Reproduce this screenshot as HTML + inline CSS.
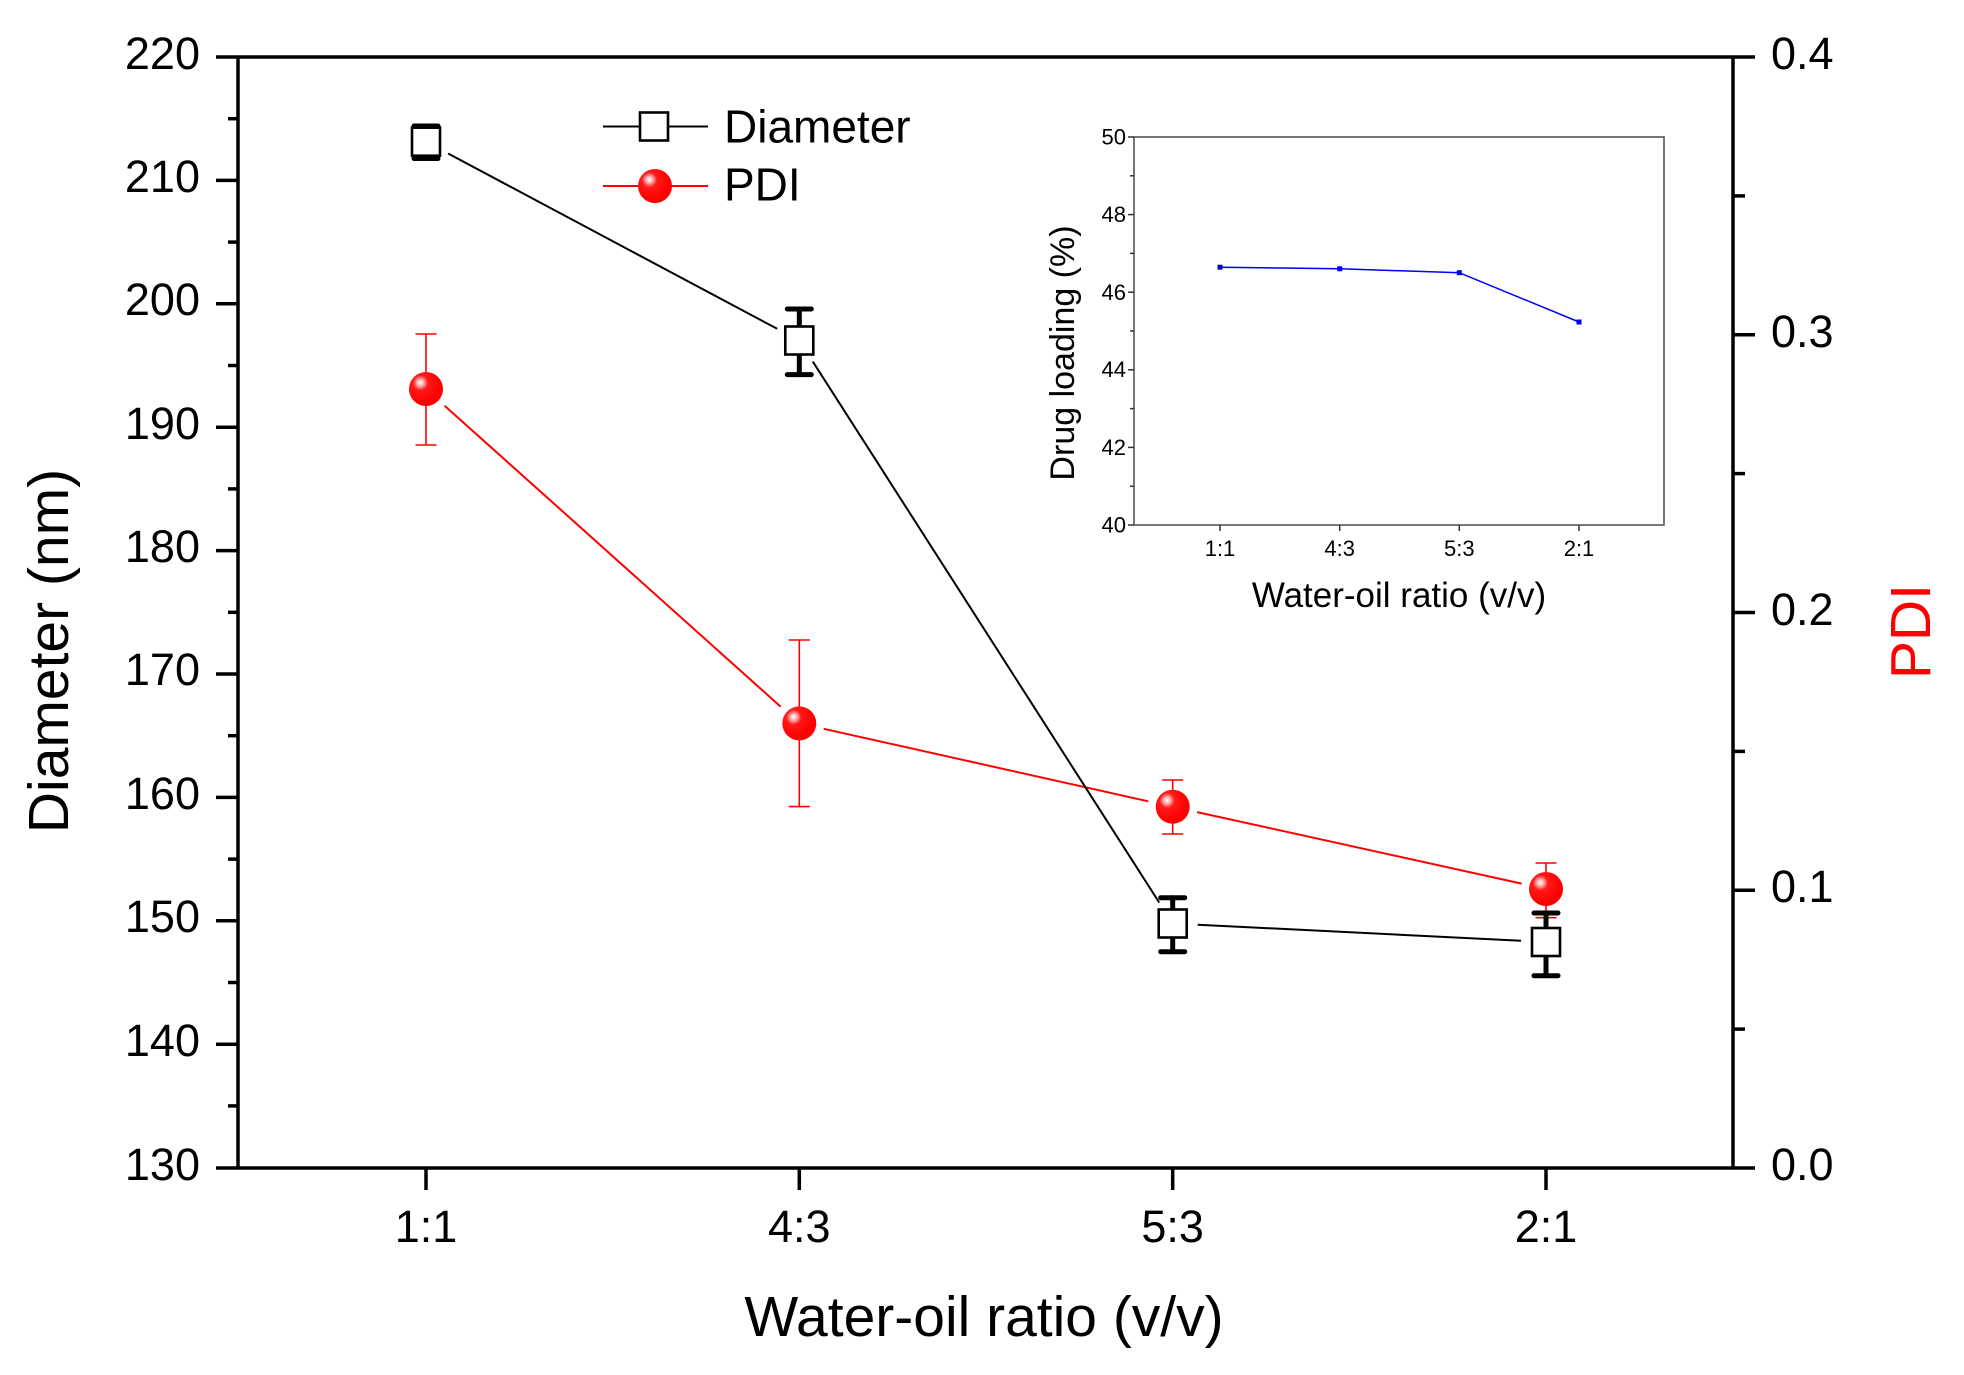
<!DOCTYPE html>
<html>
<head>
<meta charset="utf-8">
<style>
html,body{margin:0;padding:0;background:#fff;}
svg{display:block;}
text{font-family:"Liberation Sans",Arial,sans-serif;fill:#000;}
</style>
</head>
<body>
<svg width="1964" height="1375" viewBox="0 0 1964 1375" xmlns="http://www.w3.org/2000/svg">
<defs>
<radialGradient id="sph" cx="0.35" cy="0.33" r="0.55" fx="0.33" fy="0.31">
<stop offset="0" stop-color="#ffffff"/>
<stop offset="0.18" stop-color="#ffb0b0"/>
<stop offset="0.4" stop-color="#ff1a1a"/>
<stop offset="1" stop-color="#ff0000"/>
</radialGradient>
</defs>
<rect width="1964" height="1375" fill="#fff"/>

<!-- main frame -->
<g stroke="#000" stroke-width="3.5" fill="none">
<line x1="238" y1="57" x2="1733" y2="57"/>
<line x1="238" y1="1168" x2="1733" y2="1168"/>
<line x1="238" y1="55.5" x2="238" y2="1169.5"/>
<line x1="1733" y1="55.5" x2="1733" y2="1169.5"/>
</g>

<!-- left ticks -->
<g stroke="#000" stroke-width="3.5">
<line x1="216" y1="57" x2="238" y2="57"/>
<line x1="216" y1="180.4" x2="238" y2="180.4"/>
<line x1="216" y1="303.8" x2="238" y2="303.8"/>
<line x1="216" y1="427.2" x2="238" y2="427.2"/>
<line x1="216" y1="550.6" x2="238" y2="550.6"/>
<line x1="216" y1="674" x2="238" y2="674"/>
<line x1="216" y1="797.4" x2="238" y2="797.4"/>
<line x1="216" y1="920.8" x2="238" y2="920.8"/>
<line x1="216" y1="1044.2" x2="238" y2="1044.2"/>
<line x1="216" y1="1168" x2="238" y2="1168"/>
<line x1="228" y1="118.7" x2="238" y2="118.7"/>
<line x1="228" y1="242.1" x2="238" y2="242.1"/>
<line x1="228" y1="365.5" x2="238" y2="365.5"/>
<line x1="228" y1="488.9" x2="238" y2="488.9"/>
<line x1="228" y1="612.3" x2="238" y2="612.3"/>
<line x1="228" y1="735.7" x2="238" y2="735.7"/>
<line x1="228" y1="859.1" x2="238" y2="859.1"/>
<line x1="228" y1="982.5" x2="238" y2="982.5"/>
<line x1="228" y1="1105.9" x2="238" y2="1105.9"/>
</g>
<g font-size="45" text-anchor="end">
<text x="200" y="69">220</text>
<text x="200" y="192">210</text>
<text x="200" y="315">200</text>
<text x="200" y="439">190</text>
<text x="200" y="562">180</text>
<text x="200" y="685">170</text>
<text x="200" y="809">160</text>
<text x="200" y="932">150</text>
<text x="200" y="1056">140</text>
<text x="200" y="1180">130</text>
</g>

<!-- right ticks -->
<g stroke="#000" stroke-width="3.5">
<line x1="1733" y1="57" x2="1755" y2="57"/>
<line x1="1733" y1="334.75" x2="1755" y2="334.75"/>
<line x1="1733" y1="612.5" x2="1755" y2="612.5"/>
<line x1="1733" y1="890.25" x2="1755" y2="890.25"/>
<line x1="1733" y1="1168" x2="1755" y2="1168"/>
<line x1="1733" y1="195.9" x2="1745" y2="195.9"/>
<line x1="1733" y1="473.6" x2="1745" y2="473.6"/>
<line x1="1733" y1="751.4" x2="1745" y2="751.4"/>
<line x1="1733" y1="1029.1" x2="1745" y2="1029.1"/>
</g>
<g font-size="45">
<text x="1771" y="69">0.4</text>
<text x="1771" y="347">0.3</text>
<text x="1771" y="625">0.2</text>
<text x="1771" y="902">0.1</text>
<text x="1771" y="1180">0.0</text>
</g>

<!-- bottom ticks -->
<g stroke="#000" stroke-width="3.5">
<line x1="426" y1="1168" x2="426" y2="1190"/>
<line x1="799.3" y1="1168" x2="799.3" y2="1190"/>
<line x1="1172.7" y1="1168" x2="1172.7" y2="1190"/>
<line x1="1546" y1="1168" x2="1546" y2="1190"/>
</g>
<g font-size="45" text-anchor="middle">
<text x="426" y="1242">1:1</text>
<text x="799.3" y="1242">4:3</text>
<text x="1172.7" y="1242">5:3</text>
<text x="1546" y="1242">2:1</text>
</g>

<!-- axis titles -->
<text x="984" y="1336" font-size="57" text-anchor="middle">Water-oil ratio (v/v)</text>
<text transform="translate(68,651) rotate(-90)" font-size="57" text-anchor="middle">Diameter (nm)</text>
<text transform="translate(1930,631.5) rotate(-90)" font-size="57" text-anchor="middle" style="fill:#ff0000">PDI</text>

<!-- PDI series -->
<g stroke="#ff0000" stroke-width="2" fill="none">
<line x1="444.6" y1="405.7" x2="780.7" y2="706.7"/>
<line x1="823.7" y1="728.8" x2="1148.3" y2="801.3"/>
<line x1="1197.1" y1="812.1" x2="1521.6" y2="883.6"/>
</g>
<g stroke="#ff0000" stroke-width="1.6" fill="none">
<line x1="426" y1="334" x2="426" y2="445"/>
<line x1="415.5" y1="334" x2="436.5" y2="334"/>
<line x1="415.5" y1="445" x2="436.5" y2="445"/>
<line x1="799.3" y1="640" x2="799.3" y2="806.6"/>
<line x1="788.8" y1="640" x2="809.8" y2="640"/>
<line x1="788.8" y1="806.6" x2="809.8" y2="806.6"/>
<line x1="1172.7" y1="780" x2="1172.7" y2="834"/>
<line x1="1162.2" y1="780" x2="1183.2" y2="780"/>
<line x1="1162.2" y1="834" x2="1183.2" y2="834"/>
<line x1="1546" y1="863" x2="1546" y2="917.7"/>
<line x1="1535.5" y1="863" x2="1556.5" y2="863"/>
<line x1="1535.5" y1="917.7" x2="1556.5" y2="917.7"/>
</g>
<g fill="url(#sph)">
<circle cx="426" cy="389" r="17"/>
<circle cx="799.3" cy="723.4" r="17"/>
<circle cx="1172.7" cy="806.7" r="17"/>
<circle cx="1546" cy="889" r="17"/>
</g>

<!-- Diameter series -->
<g stroke="#000" stroke-width="2" fill="none">
<line x1="448.1" y1="153.5" x2="777.2" y2="328.8"/>
<line x1="812.8" y1="361.6" x2="1159.2" y2="902.5"/>
<line x1="1197.7" y1="924.7" x2="1521" y2="940.8"/>
</g>
<g stroke="#000" stroke-width="5" stroke-linecap="round" fill="none">
<line x1="426" y1="126" x2="426" y2="158"/>
<line x1="414" y1="126" x2="438" y2="126"/>
<line x1="414" y1="158.5" x2="438" y2="158.5"/>
<line x1="799.3" y1="309" x2="799.3" y2="374.6"/>
<line x1="787.3" y1="309" x2="811.3" y2="309"/>
<line x1="787.3" y1="374.6" x2="811.3" y2="374.6"/>
<line x1="1172.7" y1="897.7" x2="1172.7" y2="951.7"/>
<line x1="1160.7" y1="897.7" x2="1184.7" y2="897.7"/>
<line x1="1160.7" y1="951.7" x2="1184.7" y2="951.7"/>
<line x1="1546" y1="913" x2="1546" y2="975.7"/>
<line x1="1534" y1="913" x2="1558" y2="913"/>
<line x1="1534" y1="975.7" x2="1558" y2="975.7"/>
</g>
<g stroke="#000" stroke-width="2.6" fill="#fff">
<rect x="412" y="127.7" width="28" height="28"/>
<rect x="785.3" y="326.5" width="28" height="28"/>
<rect x="1158.7" y="909.5" width="28" height="28"/>
<rect x="1532" y="928" width="28" height="28"/>
</g>

<!-- legend -->
<line x1="603" y1="126.5" x2="708" y2="126.5" stroke="#000" stroke-width="2"/>
<rect x="640" y="112.5" width="28" height="28" fill="#fff" stroke="#000" stroke-width="2.6"/>
<text x="724" y="142.7" font-size="46">Diameter</text>
<line x1="603" y1="186" x2="708" y2="186" stroke="#ff0000" stroke-width="2"/>
<circle cx="655" cy="186" r="17" fill="url(#sph)"/>
<text x="724" y="200.7" font-size="46">PDI</text>

<!-- inset -->
<rect x="1134" y="137" width="530" height="388" fill="none" stroke="#555" stroke-width="1.6"/>
<g stroke="#333" stroke-width="1.5">
<line x1="1128" y1="137" x2="1134" y2="137"/>
<line x1="1128" y1="214.6" x2="1134" y2="214.6"/>
<line x1="1128" y1="292.2" x2="1134" y2="292.2"/>
<line x1="1128" y1="369.8" x2="1134" y2="369.8"/>
<line x1="1128" y1="447.4" x2="1134" y2="447.4"/>
<line x1="1128" y1="525" x2="1134" y2="525"/>
<line x1="1130" y1="175.8" x2="1134" y2="175.8"/>
<line x1="1130" y1="253.4" x2="1134" y2="253.4"/>
<line x1="1130" y1="331" x2="1134" y2="331"/>
<line x1="1130" y1="408.6" x2="1134" y2="408.6"/>
<line x1="1130" y1="486.2" x2="1134" y2="486.2"/>
<line x1="1220" y1="525" x2="1220" y2="531"/>
<line x1="1339.7" y1="525" x2="1339.7" y2="531"/>
<line x1="1459.3" y1="525" x2="1459.3" y2="531"/>
<line x1="1579" y1="525" x2="1579" y2="531"/>
</g>
<g font-size="22" text-anchor="end">
<text x="1126" y="144.5">50</text>
<text x="1126" y="222">48</text>
<text x="1126" y="300">46</text>
<text x="1126" y="377">44</text>
<text x="1126" y="455">42</text>
<text x="1126" y="532.5">40</text>
</g>
<g font-size="22" text-anchor="middle">
<text x="1220" y="556">1:1</text>
<text x="1339.7" y="556">4:3</text>
<text x="1459.3" y="556">5:3</text>
<text x="1579" y="556">2:1</text>
</g>
<text x="1399" y="607" font-size="35" text-anchor="middle">Water-oil ratio (v/v)</text>
<text transform="translate(1074,353) rotate(-90)" font-size="34" text-anchor="middle">Drug loading (%)</text>
<polyline points="1220,267.2 1339.7,268.8 1459.3,272.7 1579,322" fill="none" stroke="#0000ff" stroke-width="1.5"/>
<g fill="#0000ff">
<rect x="1217.5" y="264.7" width="5" height="5"/>
<rect x="1337.2" y="266.3" width="5" height="5"/>
<rect x="1456.8" y="270.2" width="5" height="5"/>
<rect x="1576.5" y="319.5" width="5" height="5"/>
</g>
</svg>
</body>
</html>
